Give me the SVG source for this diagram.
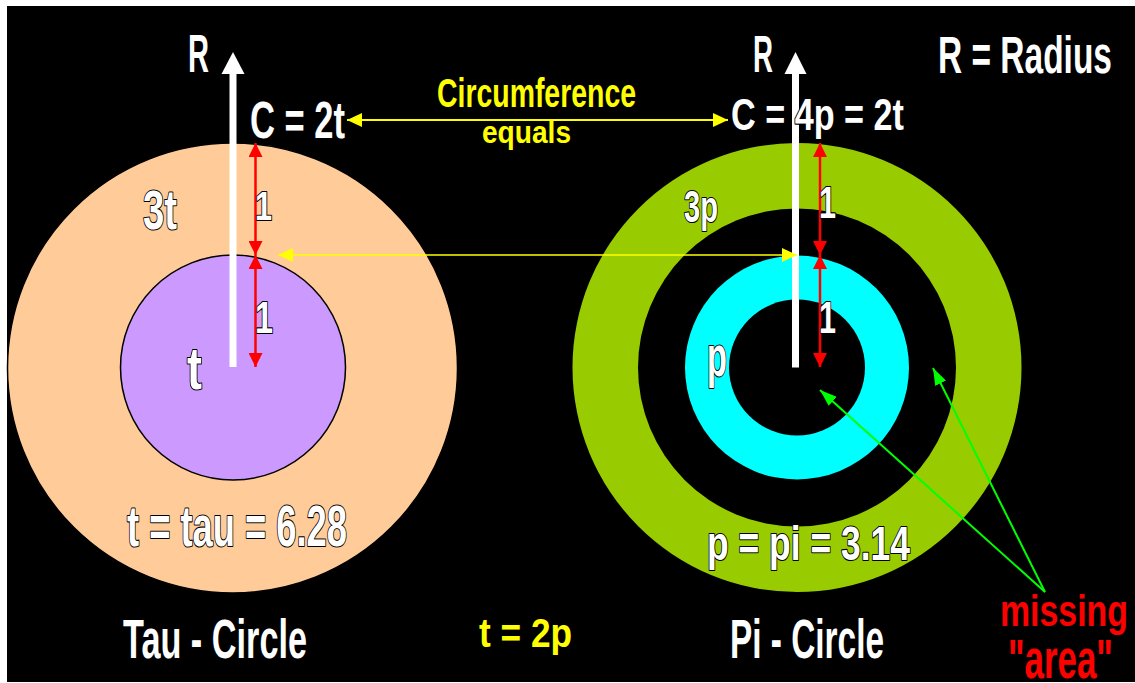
<svg xmlns="http://www.w3.org/2000/svg" width="1135" height="683" viewBox="0 0 1135 683">
<style>
text{font-family:"Liberation Sans Narrow","Liberation Sans",Arial,sans-serif;font-weight:bold}
.w{fill:#fff;stroke:#000;stroke-width:2.2;paint-order:stroke fill;stroke-linejoin:round}
.y{fill:#ffff00}
.r{fill:#ff0000}
.red{stroke:#ff0000;stroke-width:2.5;fill:none;marker-start:url(#mr);marker-end:url(#mr)}
.yl{stroke:#ffff00;fill:none;marker-start:url(#my);marker-end:url(#my)}
.gl{stroke:#00ff00;stroke-width:2;fill:none;marker-end:url(#mg)}
</style>
<defs>
<marker id="mr" markerUnits="userSpaceOnUse" markerWidth="14" markerHeight="14" refX="14" refY="7" orient="auto-start-reverse"><path d="M0,0 L14,7 L0,14 z" fill="#ff0000"/></marker>
<marker id="my" markerUnits="userSpaceOnUse" markerWidth="15" markerHeight="14" refX="15" refY="7" orient="auto-start-reverse"><path d="M0,0 L15,7 L0,14 z" fill="#ffff00"/></marker>
<marker id="mg" markerUnits="userSpaceOnUse" markerWidth="17" markerHeight="12" refX="17" refY="6" orient="auto"><path d="M0,0 L17,6 L0,12 z" fill="#00ff00"/></marker>
</defs>
<rect x="0" y="0" width="1135" height="683" fill="#fff"/>
<rect x="7" y="6" width="1128" height="676" fill="#000"/>

<g id="tau-circle">
<circle cx="232.5" cy="368" r="225" fill="#ffcc99" stroke="#000" stroke-width="1.5"/>
<circle cx="233" cy="367.5" r="112.5" fill="#cc99ff" stroke="#000" stroke-width="1.5"/>
</g>
<g id="pi-circle">
<circle cx="797" cy="367.5" r="224.5" fill="#99cc00"/>
<circle cx="797" cy="367.5" r="159" fill="#000"/>
<circle cx="797" cy="367.5" r="112" fill="#00ffff"/>
<circle cx="797" cy="367.5" r="68" fill="#000"/>
</g>
<g id="radius-left" fill="#fff">
<rect x="229.5" y="73" width="7" height="294"/>
<polygon points="233,52 221.5,74 244.5,74"/>
</g>
<g id="radius-right" fill="#fff">
<rect x="792" y="73" width="7" height="294.5"/>
<polygon points="795.5,52 784.5,74 806.5,74"/>
</g>

<g id="connectors">
<line class="red" x1="255.5" y1="143" x2="255.5" y2="255"/>
<line class="red" x1="255.5" y1="255" x2="255.5" y2="367"/>
<line class="red" x1="820" y1="143" x2="820" y2="255"/>
<line class="red" x1="820" y1="255" x2="820" y2="367"/>
<line class="yl" stroke-width="2" x1="347" y1="120" x2="728" y2="120"/>
<line class="yl" stroke-width="1.5" x1="278" y1="255" x2="797" y2="255"/>
<line class="gl" x1="1045" y1="592" x2="820" y2="390"/>
<line class="gl" x1="1045" y1="592" x2="933" y2="368"/>
</g>

<g id="labels">
<text class="w" x="188" y="72" font-size="54" textLength="21" lengthAdjust="spacingAndGlyphs">R</text>
<text class="w" x="753" y="72" font-size="52" textLength="20" lengthAdjust="spacingAndGlyphs">R</text>
<text class="w" transform="translate(938,73) scale(0.8,1)" x="0" y="0" font-size="52" textLength="217.5" lengthAdjust="spacingAndGlyphs">R = Radius</text>
<text class="w" x="250" y="138" font-size="52" textLength="95" lengthAdjust="spacingAndGlyphs">C = 2t</text>
<text class="w" x="731" y="130" font-size="45" textLength="173" lengthAdjust="spacingAndGlyphs">C = 4p = 2t</text>
<text class="y" x="437" y="107" font-size="41" textLength="199" lengthAdjust="spacingAndGlyphs">Circumference</text>
<text class="y" x="482" y="143" font-size="32" textLength="89" lengthAdjust="spacingAndGlyphs">equals</text>
<text class="w" x="143" y="229" font-size="56" textLength="34" lengthAdjust="spacingAndGlyphs">3t</text>
<text class="w" x="255" y="220" font-size="40" textLength="17" lengthAdjust="spacingAndGlyphs">1</text>
<text class="w" x="255" y="333" font-size="44" textLength="18" lengthAdjust="spacingAndGlyphs">1</text>
<text class="w" x="187" y="389" font-size="60" textLength="15" lengthAdjust="spacingAndGlyphs">t</text>
<text class="w" x="127" y="546" font-size="57" textLength="220" lengthAdjust="spacingAndGlyphs">t = tau = 6.28</text>
<text class="w" x="123" y="658" font-size="56" textLength="184" lengthAdjust="spacingAndGlyphs">Tau - Circle</text>
<text class="y" x="479" y="647" font-size="40" textLength="93" lengthAdjust="spacingAndGlyphs">t = 2p</text>
<text class="w" x="730" y="658" font-size="56" textLength="154" lengthAdjust="spacingAndGlyphs">Pi - Circle</text>
<text class="w" x="707" y="560" font-size="49" textLength="203" lengthAdjust="spacingAndGlyphs">p = pi = 3.14</text>
<text class="w" x="684" y="222" font-size="44" textLength="34" lengthAdjust="spacingAndGlyphs">3p</text>
<text class="w" x="819" y="218" font-size="44" textLength="17" lengthAdjust="spacingAndGlyphs">1</text>
<text class="w" x="819" y="333" font-size="44" textLength="17" lengthAdjust="spacingAndGlyphs">1</text>
<text class="w" x="707" y="376" font-size="58" textLength="20" lengthAdjust="spacingAndGlyphs">p</text>
<text class="r" transform="translate(1000,626) scale(0.8,1)" x="0" y="0" font-size="44" textLength="160" lengthAdjust="spacingAndGlyphs">missing</text>
<text class="r" transform="translate(1008,678) scale(0.76,1)" x="0" y="0" font-size="56" textLength="138" lengthAdjust="spacingAndGlyphs">"area"</text>
</g>
</svg>
